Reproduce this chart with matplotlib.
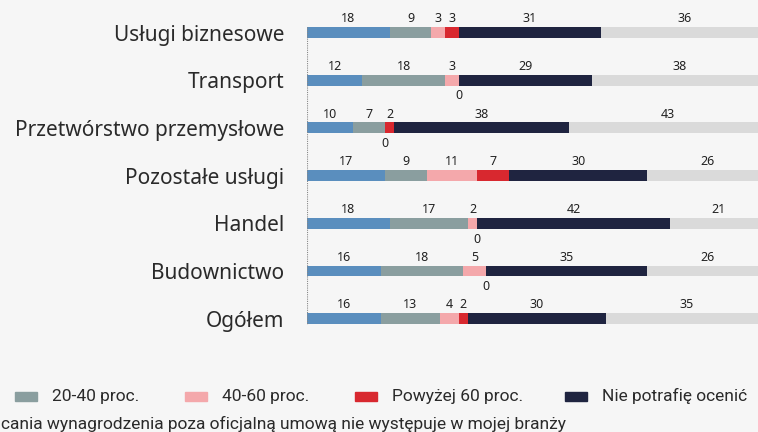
import matplotlib
matplotlib.use("Agg")
import matplotlib.pyplot as plt
from matplotlib.patches import Rectangle
import numpy as np

categories = ["Usługi biznesowe", "Transport", "Przetwórstwo przemysłowe",
              "Pozostałe usługi", "Handel", "Budownictwo", "Ogółem"]
series_names = ["Do 20 proc.", "20-40 proc.", "40-60 proc.", "Powyżej 60 proc.",
                "Nie potrafię ocenić",
                "Zjawisko wypłacania wynagrodzenia poza oficjalną umową nie występuje w mojej branży"]
# visible (cropped) part of the last legend entry, as in the reference
last_legend_visible = "cania wynagrodzenia poza oficjalną umową nie występuje w mojej branży"
do20 = [18, 12, 10, 17, 18, 16, 16]
p20_40 = [9, 18, 7, 9, 17, 18, 13]
p40_60 = [3, 3, 0, 11, 2, 5, 4]
pow60 = [3, 0, 2, 7, 0, 0, 2]
nie_wiem = [31, 29, 38, 30, 42, 35, 30]
nie_wystepuje = [36, 38, 43, 26, 21, 26, 35]

colors = ["#5A8EBE", "#8A9E9F", "#F4A8AB", "#D8282F", "#1F2440", "#DADADA"]
bg = "#F6F6F6"
txt = "#2A2A2A"

W, H = 758, 432
fig = plt.figure(figsize=(W / 100, H / 100), dpi=100, facecolor=bg)

x0_px, x1_px = 307, 767
step = 47.7
top_px = 32.5 - step / 2
bot_px = top_px + step * len(categories)
ax = fig.add_axes([x0_px / W, 1 - bot_px / H, (x1_px - x0_px) / W, (bot_px - top_px) / H])
ax.set_facecolor(bg)
ax.patch.set_alpha(0)

series = [do20, p20_40, p40_60, pow60, nie_wiem, nie_wystepuje]
y = np.arange(len(categories))
bar_h = 0.23
left = np.zeros(len(categories))
for vals, col in zip(series, colors):
    vals = np.array(vals, dtype=float)
    ax.barh(y, vals, left=left, height=bar_h, color=col, edgecolor="none", zorder=2)
    for i, v in enumerate(vals):
        if v > 0:
            ax.text(left[i] + v / 2, y[i] - 0.29, f"{int(v)}", ha="center", va="center",
                    fontsize=9, color="#222222", family="Noto Sans")
        else:
            ax.text(left[i], y[i] + 0.33, "0", ha="center", va="center",
                    fontsize=9, color="#222222", family="Noto Sans")
    left += vals

ax.vlines(0, -bar_h / 2, len(categories) - 1 + bar_h / 2, colors="#888888",
          linestyles=(0, (1, 1)), linewidth=0.8, zorder=3)

ax.set_xlim(0, 100)
ax.set_ylim(len(categories) - 0.5, -0.5)
ax.set_yticks(y)
ax.set_yticklabels(categories, fontsize=15, color=txt, family="Noto Sans")
ax.tick_params(axis="y", length=0, pad=16.5)
ax.set_xticks([])
for s in ax.spines.values():
    s.set_visible(False)

# legend (cropped like the reference; "Do 20 proc." lies outside the visible area)
leg_y1 = 1 - 396 / H
leg_items_x = [15, 185, 355, 565]
for name, col, xp in zip(series_names[1:5], colors[1:5], leg_items_x):
    fig.patches.append(Rectangle((xp / W, leg_y1 - 4.5 / H), 22 / W, 9 / H,
                                 transform=fig.transFigure, color=col, figure=fig))
    fig.text((xp + 37) / W, leg_y1, name, ha="left", va="center", fontsize=12.5,
             color=txt, family="Roboto")
leg_y2 = 1 - 424 / H
fig.text(1 / W, leg_y2, last_legend_visible, ha="left", va="center", fontsize=12.5,
         color=txt, family="Roboto")

fig.savefig("out.png", dpi=100, facecolor=bg)
